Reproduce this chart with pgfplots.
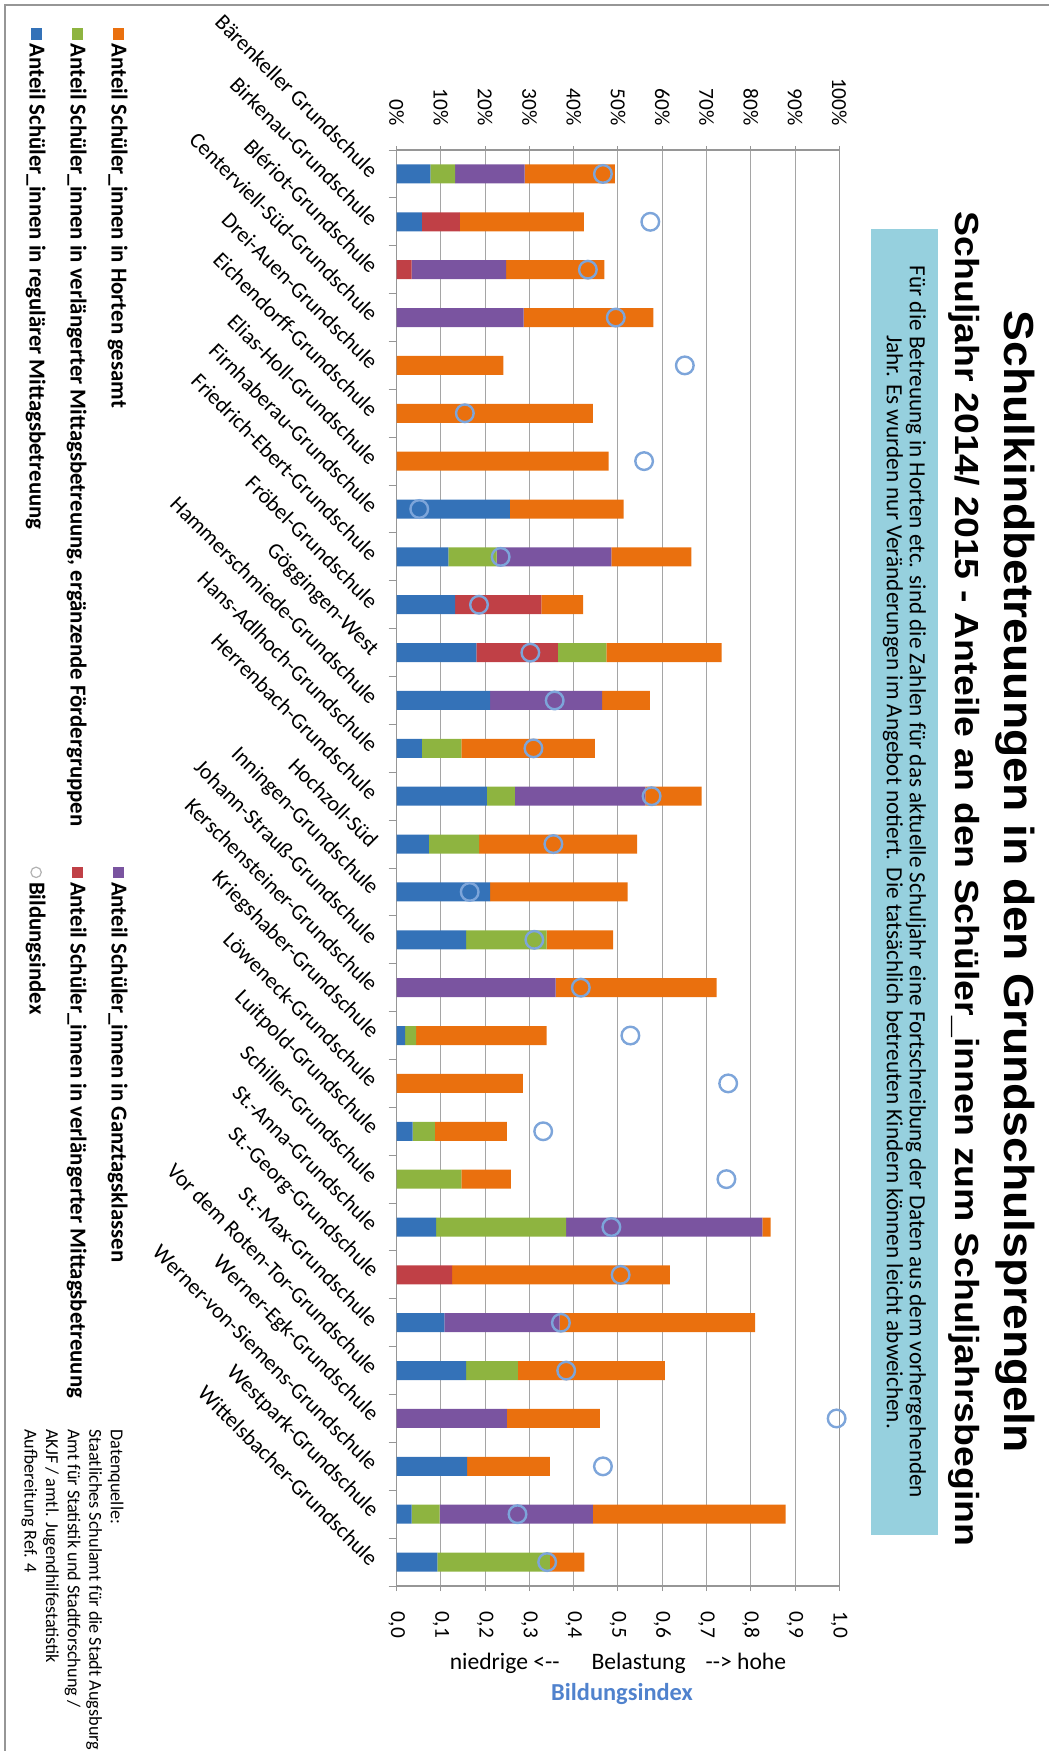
\documentclass[border=0pt]{standalone}
\usepackage{fontspec}
\setmainfont{Carlito}
\newfontfamily\arialtitle[FakeStretch=1.1]{Liberation Sans}
\newfontfamily\arialsub[FakeStretch=1.12]{Liberation Sans}
\usepackage{graphicx}
\usepackage{pgfplots}
\pgfplotsset{compat=1.18}
\definecolor{cBlue}{RGB}{52,114,184}
\definecolor{cRed}{RGB}{192,64,70}
\definecolor{cGreen}{RGB}{142,180,64}
\definecolor{cPurple}{RGB}{122,84,160}
\definecolor{cOrange}{RGB}{234,112,14}
\definecolor{cCirc}{RGB}{125,165,218}
\definecolor{cBox}{RGB}{150,208,222}
\definecolor{cGrid}{RGB}{165,165,165}
\definecolor{cAxis}{RGB}{150,150,150}
\definecolor{cIdx}{RGB}{80,130,205}
\begin{document}
\rotatebox{-90}{%
\begin{tikzpicture}
\node[font=\arialtitle\bfseries\fontsize{21}{24}\selectfont] at (441pt,-20.5pt) {Schulkindbetreuungen in den Grundschulsprengeln};
\node[font=\arialsub\bfseries\fontsize{16.7}{19}\selectfont] at (439.5pt,-46pt) {Schuljahr 2014/ 2015 - Anteile an den Schüler\_innen zum Schuljahrsbeginn};
\fill[cBox] (114.5pt,-59pt) rectangle (767.5pt,-92.5pt);
\node[align=center, font=\fontsize{11.6}{11.5}\selectfont] at (441pt,-75.75pt) {Für die Betreuung in Horten etc. sind die Zahlen für das aktuelle Schuljahr eine Fortschreibung der Daten aus dem vorhergehenden\\Jahr. Es wurden nur Veränderungen im Angebot notiert. Die tatsächlich betreuten Kindern können leicht abweichen.};
\begin{axis}[
  at={(75pt,-329.65pt)}, anchor=south west,
  scale only axis, width=718pt, height=221.3pt,
  xmin=-0.5, xmax=29.5, ymin=0, ymax=100,
  ybar stacked, bar width=9.5pt,
  xtick={0,...,29},
  xticklabels={Bärenkeller Grundschule,Birkenau-Grundschule,Blériot-Grundschule,Centerviell-Süd-Grundschule,Drei-Auen-Grundschule,Eichendorff-Grundschule,Elias-Holl-Grundschule,Firnhaberau-Grundschule,Friedrich-Ebert-Grundschule,Fröbel-Grundschule,Göggingen-West,Hammerschmiede-Grundschule,Hans-Adlhoch-Grundschule,Herrenbach-Grundschule,Hochzoll-Süd,Inningen-Grundschule,Johann-Strauß-Grundschule,Kerschensteiner-Grundschule,Kriegshaber-Grundschule,Löweneck-Grundschule,Luitpold-Grundschule,Schiller-Grundschule,St.-Anna-Grundschule,St.-Georg-Grundschule,St.-Max-Grundschule,Vor dem Roten-Tor-Grundschule,Werner-Egk-Grundschule,Werner-von-Siemens-Grundschule,Westpark-Grundschule,Wittelsbacher-Grundschule},
  xticklabel style={yshift=-9pt, rotate=45, anchor=east, inner sep=0pt, font=\fontsize{11}{12}\selectfont},
  major x tick style={draw=none},
  minor xtick={-0.5,0.5,...,29.5},
  ytick={0,10,...,100},
  yticklabel={\pgfmathprintnumber{\tick}\%},
  /pgf/number format/assume math mode=true,
  yticklabel style={xshift=-6.5pt, font=\fontsize{10.7}{12}\selectfont},
  ymajorgrids, grid style={cGrid, line width=0.5pt},
  axis line style={cAxis, line width=0.6pt},
  tick style={cAxis, line width=0.5pt},
  tick align=outside, xtick pos=left, ytick pos=left,
  major tick length=2pt, minor tick length=4pt,
]
\addplot[fill=cBlue, draw=none] coordinates {(0,7.6)(1,5.7)(2,0)(3,0)(4,0)(5,0)(6,0)(7,25.6)(8,11.7)(9,13.2)(10,18.0)(11,21.1)(12,5.7)(13,20.4)(14,7.3)(15,21.1)(16,15.7)(17,0)(18,1.9)(19,0)(20,3.6)(21,0)(22,8.9)(23,0)(24,10.8)(25,15.7)(26,0)(27,15.9)(28,3.4)(29,9.2)};
\addplot[fill=cRed, draw=none] coordinates {(0,0)(1,8.6)(2,3.4)(3,0)(4,0)(5,0)(6,0)(7,0)(8,0)(9,19.5)(10,18.4)(11,0)(12,0)(13,0)(14,0)(15,0)(16,0)(17,0)(18,0)(19,0)(20,0)(21,0)(22,0)(23,12.5)(24,0)(25,0)(26,0)(27,0)(28,0)(29,0)};
\addplot[fill=cGreen, draw=none] coordinates {(0,5.6)(1,0)(2,0)(3,0)(4,0)(5,0)(6,0)(7,0)(8,10.9)(9,0)(10,11.0)(11,0)(12,8.9)(13,6.3)(14,11.3)(15,0)(16,18.2)(17,0)(18,2.5)(19,0)(20,5.0)(21,14.6)(22,29.4)(23,0)(24,0)(25,11.7)(26,0)(27,0)(28,6.3)(29,25.4)};
\addplot[fill=cPurple, draw=none] coordinates {(0,15.7)(1,0)(2,21.3)(3,28.7)(4,0)(5,0)(6,0)(7,0)(8,25.9)(9,0)(10,0)(11,25.3)(12,0)(13,29.5)(14,0)(15,0)(16,0)(17,35.9)(18,0)(19,0)(20,0)(21,0)(22,44.3)(23,0)(24,26.0)(25,0)(26,24.9)(27,0)(28,34.6)(29,0)};
\addplot[fill=cOrange, draw=none] coordinates {(0,20.4)(1,28.0)(2,22.2)(3,29.3)(4,24.1)(5,44.3)(6,47.9)(7,25.7)(8,18.1)(9,9.4)(10,26.0)(11,10.8)(12,30.2)(13,12.7)(14,35.7)(15,31.1)(16,15.0)(17,36.4)(18,29.5)(19,28.5)(20,16.3)(21,11.2)(22,1.9)(23,49.2)(24,44.2)(25,33.2)(26,21.0)(27,18.7)(28,43.6)(29,7.8)};
\end{axis}
\begin{axis}[
  at={(75pt,-329.65pt)}, anchor=south west,
  scale only axis, width=718pt, height=221.3pt,
  xmin=-0.5, xmax=29.5, ymin=0, ymax=1,
  axis x line=none, axis y line*=right,
  ytick={0,0.1,0.2,0.3,0.4,0.5,0.6,0.7,0.8,0.9,1.0},
  /pgf/number format/fixed, /pgf/number format/fixed zerofill,
  /pgf/number format/precision=1, /pgf/number format/use comma,
  /pgf/number format/assume math mode=true,
  yticklabel style={xshift=6.5pt, font=\fontsize{10.7}{12}\selectfont},
  axis line style={cAxis, line width=0.6pt},
  tick style={cAxis, line width=0.5pt},
  tick align=outside, major tick length=2.5pt,
  clip=false,
  legend columns=2, legend cell align=left,
  legend style={at={(axis description cs:-0.085,-0.598)}, anchor=north west, draw=none, fill=none, inner sep=0pt, row sep=7pt, font=\bfseries\fontsize{11.4}{12}\selectfont, /tikz/every even column/.append style={column sep=18pt}},
]
\addlegendimage{legend image code/.code={\fill[cOrange] (0pt,-2.6pt) rectangle (5.2pt,2.6pt);}}
\addlegendentry{Anteil Schüler\_innen in Horten gesamt}
\addlegendimage{legend image code/.code={\fill[cPurple] (0pt,-2.6pt) rectangle (5.2pt,2.6pt);}}
\addlegendentry{Anteil Schüler\_innen in Ganztagsklassen}
\addlegendimage{legend image code/.code={\fill[cGreen] (0pt,-2.6pt) rectangle (5.2pt,2.6pt);}}
\addlegendentry{Anteil Schüler\_innen in verlängerter Mittagsbetreuung, ergänzende Fördergruppen}
\addlegendimage{legend image code/.code={\fill[cRed] (0pt,-2.6pt) rectangle (5.2pt,2.6pt);}}
\addlegendentry{Anteil Schüler\_innen in verlängerter Mittagsbetreuung}
\addlegendimage{legend image code/.code={\fill[cBlue] (0pt,-2.6pt) rectangle (5.2pt,2.6pt);}}
\addlegendentry{Anteil Schüler\_innen in regulärer Mittagsbetreuung}
\addplot[only marks, mark=o, mark size=4.4pt, mark options={draw=cCirc, line width=1.2pt, fill=none},
  legend image code/.code={\draw[gray!60, line width=0.6pt, fill=white] (2.6pt,0pt) circle (2.6pt);}]
  coordinates {(0,0.466)(1,0.573)(2,0.432)(3,0.495)(4,0.651)(5,0.154)(6,0.559)(7,0.051)(8,0.235)(9,0.186)(10,0.302)(11,0.357)(12,0.309)(13,0.576)(14,0.354)(15,0.165)(16,0.311)(17,0.416)(18,0.528)(19,0.749)(20,0.331)(21,0.745)(22,0.485)(23,0.506)(24,0.371)(25,0.383)(26,0.994)(27,0.466)(28,0.273)(29,0.340)};
\addlegendentry{Bildungsindex}
\end{axis}
\node[rotate=90, font=\fontsize{11.8}{12}\selectfont] at (831.5pt,-219pt) {niedrige <-{}-\hspace{16pt}Belastung\hspace{10pt}-{}-> hohe};
\node[rotate=90, font=\bfseries\fontsize{12.2}{13}\selectfont, text=cIdx] at (847pt,-217pt) {Bildungsindex};
\node[anchor=north west, align=left, inner sep=0pt, font=\fontsize{9.1}{10.8}\selectfont] at (714.5pt,-466pt) {Datenquelle:\\Staatliches Schulamt für die Stadt Augsburg\\Amt für Statistik und Stadtforschung /\\AKJF / amtl. Jugendhilfestatistik\\Aufbereitung Ref. 4};
\draw[cAxis, line width=0.8pt] (2.5pt,-3.5pt) -- (2.5pt,-525.5pt) -- (875.5pt,-525.5pt);
\pgfresetboundingbox
\path[use as bounding box] (0pt,0pt) rectangle (875.5pt,-528pt);
\end{tikzpicture}}
\end{document}
